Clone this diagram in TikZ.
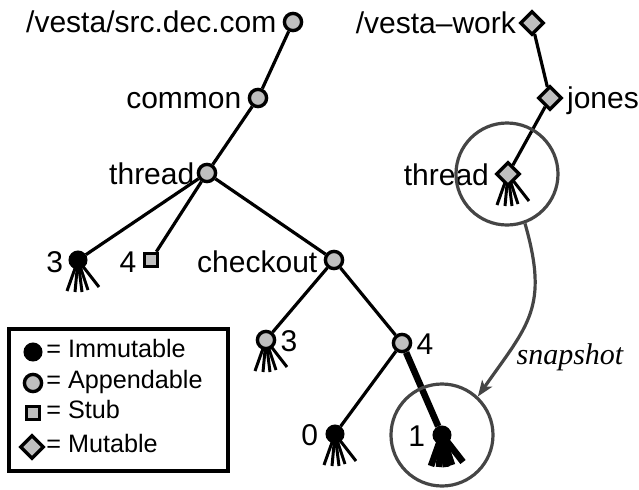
\documentclass[tikz,border=0pt]{standalone}
\usepackage{fontspec}
\setmainfont{Liberation Sans}
\newfontfamily\snapserif{Liberation Serif}
\usepackage{tikz}
\usetikzlibrary{arrows.meta}
\usetikzlibrary{shapes.geometric}
\usetikzlibrary{backgrounds}
\definecolor{nodegray}{rgb}{0.75,0.75,0.75}
\definecolor{ringgray}{rgb}{0.27,0.27,0.27}
\newcommand{\twigs}[2][]{\foreach \dx/\dy in {-11/31,-3/32,4/32,10/30,21/27} \draw[twig,#1] (#2.center) -- ++(\dx,\dy);}

\begin{document}
\begin{tikzpicture}[x=0.5pt,y=-0.5pt,line join=miter,
  immut/.style={circle,draw,fill=black,line width=1.7pt,minimum size=7.8pt,inner sep=0pt},
  append/.style={circle,draw,fill=nodegray,line width=1.7pt,minimum size=8.6pt,inner sep=0pt},
  stub/.style={rectangle,draw,fill=nodegray,line width=1.7pt,minimum size=6.6pt,inner sep=0pt},
  mutbl/.style={diamond,draw,fill=nodegray,line width=1.7pt,minimum size=12pt,inner sep=0pt},
  lbl/.style={font=\fontsize{15}{18}\selectfont,inner sep=0pt},
  keytext/.style={font=\fontsize{12.6}{15}\selectfont,inner sep=0pt,anchor=mid west},
  branch/.style={line width=1.6pt},
  twig/.style={line width=1.5pt},
  ring/.style={circle,draw=ringgray,line width=1.6pt,minimum size=51pt,inner sep=0pt},
  snap/.style={draw=ringgray,line width=1.6pt,-{Stealth[length=8pt,width=6pt,inset=2pt]}}]
\useasboundingbox (0,0) rectangle (639,489);

\node[append] (src) at (293,22) {};
\node[append] (common) at (258,98) {};
\node[append] (thread) at (207,173) {};
\node[immut] (imm3) at (78,260) {};
\node[stub] (stub4) at (151,260) {};
\node[append] (checkout) at (334,260) {};
\node[append] (app3) at (266,340) {};
\node[append] (app4) at (402,343) {};
\node[immut] (imm0) at (335,434) {};
\node[immut] (imm1) at (442,435) {};

\node[mutbl] (work) at (532,23) {};
\node[mutbl] (jones) at (550,98) {};
\node[mutbl] (wthread) at (508,174) {};

\draw[branch] (src) -- (common);
\draw[branch] (common) -- (thread);
\draw[branch] (thread) -- (imm3);
\draw[branch] (thread) -- (stub4);
\draw[branch] (thread) -- (checkout);
\draw[branch] (checkout) -- (app3);
\draw[branch] (checkout) -- (app4);
\draw[branch] (app4) -- (imm0);
\draw[branch,line width=3.3pt] (app4) -- (imm1);
\draw[branch] (work) -- (jones);
\draw[branch] (jones) -- (wthread);

\begin{scope}[on background layer]
\twigs{imm3}
\twigs{app3}
\twigs{imm0}
\twigs[line width=3.3pt]{imm1}
\twigs{wthread}
\end{scope}

\node[lbl,anchor=base east] (srclbl) at ([xshift=-3pt,yshift=-5pt]src.west) {/vesta/src.dec.com};
\node[lbl,anchor=base east] (commonlbl) at ([xshift=-3pt,yshift=-5pt]common.west) {common};
\node[lbl,anchor=base east] (threadlbl) at ([xshift=-1pt,yshift=-5.5pt]thread.west) {thread};
\node[lbl,anchor=base east] (imm3lbl) at ([xshift=-2.5pt,yshift=-6pt]imm3.west) {3};
\node[lbl,anchor=base east] (stub4lbl) at ([xshift=-3pt,yshift=-6pt]stub4.west) {4};
\node[lbl,anchor=base east] (checkoutlbl) at ([xshift=-3pt,yshift=-6pt]checkout.west) {checkout};
\node[lbl,anchor=base west] (app3lbl) at ([xshift=2pt,yshift=-5.5pt]app3.east) {3};
\node[lbl,anchor=base west] (app4lbl) at ([xshift=2pt,yshift=-5.5pt]app4.east) {4};
\node[lbl,anchor=base east] (imm0lbl) at ([xshift=-3.5pt,yshift=-5.5pt]imm0.west) {0};
\node[lbl,anchor=base east] (imm1lbl) at ([xshift=-3.5pt,yshift=-5.5pt]imm1.west) {1};
\node[lbl,anchor=base east] (worklbl) at ([xshift=-1pt,yshift=-5pt]work.west) {/vesta--work};
\node[lbl,anchor=base west] (joneslbl) at ([xshift=1.5pt,yshift=-5pt]jones.east) {jones};
\node[lbl,anchor=base east] (wthreadlbl) at ([xshift=-2.5pt,yshift=-5.5pt]wthread.west) {thread};

\node[ring] (ringtop) at (507,174) {};
\node[ring] (ringbot) at (442,435) {};
\draw[snap] (ringtop.-70) to[out=-74,in=55,looseness=1.25] (ringbot.47);
\node[lbl,font=\fontsize{15}{18}\snapserif\itshape] (snaplbl) at (570,357) {snapshot};

\draw[line width=1.6pt] (9,329) rectangle (228,471);
\node[immut] (keyimm) at (33,352) {};
\node[append] (keyapp) at (33,383) {};
\node[stub] (keystub) at (33,413) {};
\node[mutbl] (keymut) at (32,447) {};
\node[keytext] (keyimmtxt) at (46,352) {= Immutable};
\node[keytext] (keyapptxt) at (46,383) {= Appendable};
\node[keytext] (keystubtxt) at (46,413) {= Stub};
\node[keytext] (keymuttxt) at (46,447) {= Mutable};
\end{tikzpicture}
\end{document}
